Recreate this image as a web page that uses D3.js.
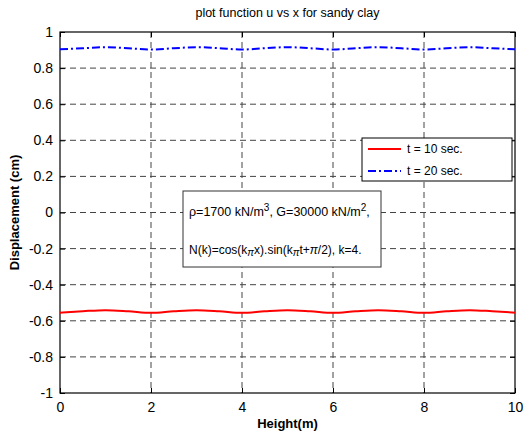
<!DOCTYPE html>
<html><head><meta charset="utf-8">
<script src="https://cdn.jsdelivr.net/npm/d3@7"></script>
<style>body{margin:0;background:#fff}svg{font-family:"Liberation Sans",Arial,sans-serif}</style>
</head><body><svg id="c" width="531" height="439"></svg>
<script>
const xs = [0,0.5,1,1.5,2,2.5,3,3.5,4,4.5,5,5.5,6,6.5,7,7.5,8,8.5,9,9.5,10];
const u10 = [-0.555,-0.547,-0.541,-0.547,-0.556,-0.547,-0.541,-0.547,-0.556,-0.547,-0.541,-0.547,-0.556,-0.547,-0.541,-0.547,-0.556,-0.547,-0.541,-0.547,-0.555];
const u20 = [0.904,0.910,0.916,0.910,0.903,0.910,0.916,0.910,0.903,0.910,0.916,0.910,0.903,0.910,0.916,0.910,0.903,0.910,0.916,0.910,0.904];
const xTicks = [0,2,4,6,8,10];
const yTicks = [-1,-0.8,-0.6,-0.4,-0.2,0,0.2,0.4,0.6,0.8,1];
const seriesNames = ["t = 10 sec.","t = 20 sec."];
const title = "plot function u vs x for sandy clay";

const svg = d3.select("#c");
const L=60,R=515,T=32,B=393;
const x = d3.scaleLinear().domain([0,10]).range([L,R]);
const y = d3.scaleLinear().domain([-1,1]).range([B,T]);

// grid
const g = svg.append("g");
g.selectAll(".gx").data(xTicks.slice(1,-1)).join("line")
 .attr("x1",d=>x(d)).attr("x2",d=>x(d)).attr("y1",T).attr("y2",B)
 .attr("stroke","#444").attr("stroke-width",1).attr("stroke-dasharray","6,4");
g.selectAll(".gy").data(yTicks.slice(1,-1)).join("line")
 .attr("y1",d=>y(d)).attr("y2",d=>y(d)).attr("x1",L).attr("x2",R)
 .attr("stroke","#444").attr("stroke-width",1).attr("stroke-dasharray","6,4");

// axes with inward ticks
const fmt = d=>String(d);
const ax = svg.append("g").attr("transform",`translate(0,${B})`).call(d3.axisBottom(x).tickValues(xTicks).tickSize(-5).tickPadding(7).tickFormat(fmt));
const axT = svg.append("g").attr("transform",`translate(0,${T})`).call(d3.axisTop(x).tickValues(xTicks).tickSize(-5).tickFormat(""));
const ay = svg.append("g").attr("transform",`translate(${L},0)`).call(d3.axisLeft(y).tickValues(yTicks).tickSize(-5).tickPadding(7).tickFormat(fmt));
const ayR = svg.append("g").attr("transform",`translate(${R},0)`).call(d3.axisRight(y).tickValues(yTicks).tickSize(-5).tickFormat(""));
[ax,axT,ay,ayR].forEach(a=>{a.select(".domain").remove();a.selectAll("line").attr("stroke","#000");a.selectAll("text").attr("font-size",14).attr("fill","#000").attr("font-family","Liberation Sans, Arial");});
ax.selectAll("text").attr("dy","0.85em");
svg.append("rect").attr("x",L).attr("y",T).attr("width",R-L).attr("height",B-T).attr("fill","none").attr("stroke","#000").attr("stroke-width",1.2);

// lines
const line = d3.line().x((d,i)=>x(xs[i])).y(d=>y(d)).curve(d3.curveMonotoneX);
svg.append("path").datum(u10).attr("d",line).attr("fill","none").attr("stroke","#ff0000").attr("stroke-width",2);
svg.append("path").datum(u20).attr("d",line).attr("fill","none").attr("stroke","#0000ff").attr("stroke-width",2).attr("stroke-dasharray","8,3,2,3");

// title & labels
svg.append("text").attr("x",(L+R)/2).attr("y",17).attr("text-anchor","middle").attr("font-size",12.5).text(title);
svg.append("text").attr("x",(L+R)/2).attr("y",428).attr("text-anchor","middle").attr("font-size",13).attr("font-weight","bold").text("Height(m)");
svg.append("text").attr("transform",`translate(19,${(T+B)/2}) rotate(-90)`).attr("text-anchor","middle").attr("font-size",13).attr("font-weight","bold").text("Displacement (cm)");

// legend
const lg = svg.append("g");
lg.append("rect").attr("x",362).attr("y",138).attr("width",150).attr("height",43).attr("fill","#fff").attr("stroke","#000").attr("stroke-width",1);
const cols=["#ff0000","#0000ff"], dashes=[null,"8,3,2,3"];
seriesNames.forEach((n,i)=>{
  const yy=149+i*22;
  lg.append("line").attr("x1",368).attr("x2",401).attr("y1",yy).attr("y2",yy).attr("stroke",cols[i]).attr("stroke-width",2).attr("stroke-dasharray",dashes[i]);
  lg.append("text").attr("x",407).attr("y",yy+4).attr("font-size",12).text(n);
});

// annotation
const an = svg.append("g");
an.append("rect").attr("x",183).attr("y",191).attr("width",198).attr("height",76).attr("fill","#fff").attr("stroke","#333").attr("stroke-width",1);
const t1 = an.append("text").attr("x",189).attr("y",216).attr("font-size",12.5);
t1.append("tspan").text("ρ=1700 kN/m");
t1.append("tspan").attr("dy",-5).attr("font-size",10).text("3");
t1.append("tspan").attr("dy",5).text(", G=30000 kN/m");
t1.append("tspan").attr("dy",-5).attr("font-size",10).text("2");
t1.append("tspan").attr("dy",5).text(",");
const t2 = an.append("text").attr("x",189).attr("y",254).attr("font-size",12);
t2.append("tspan").text("N(k)=cos(k");
t2.append("tspan").attr("dy",2).attr("font-size",10).attr("font-style","italic").text("π");
t2.append("tspan").attr("dy",-2).text("x).sin(k");
t2.append("tspan").attr("dy",2).attr("font-size",10).attr("font-style","italic").text("π");
t2.append("tspan").attr("dy",-2).text("t+");
t2.append("tspan").attr("font-style","italic").text("π");
t2.append("tspan").text("/2), k=4.");
</script></body></html>
